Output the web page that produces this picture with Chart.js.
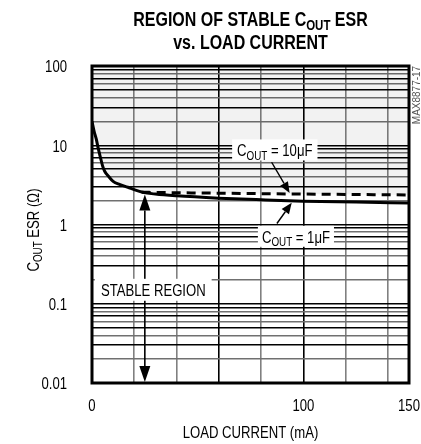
<!DOCTYPE html>
<html><head><meta charset="utf-8">
<script src="https://cdn.jsdelivr.net/npm/chart.js@4"></script>
<style>html,body{margin:0;padding:0;background:#fff}#wrap{width:421px;height:444px;position:relative}</style>
</head><body><div id="wrap"><canvas id="c" width="421" height="444"></canvas></div>
<script>
// ---- data ----
const loadCurrent1uF = [0, 1, 2, 3, 4, 5, 6, 8, 10, 13, 17, 20, 24, 30, 40, 60, 80, 100, 125, 150];
const esr1uF        = [20, 15, 12, 9, 7, 5.5, 4.7, 4.0, 3.5, 3.2, 2.95, 2.75, 2.55, 2.42, 2.3, 2.15, 2.05, 1.97, 1.92, 1.87];
const loadCurrent10uF = [23.5, 50, 100, 150];
const esr10uF         = [2.55, 2.5, 2.42, 2.36];
const xGridValues = [0, 20, 40, 60, 80, 100, 120, 140, 150];
const xTickLabels = [0, 100, 150];
const yTickLabels = [0.01, 0.1, 1, 10, 100];
const titleLine1 = ['REGION OF STABLE C', 'OUT', ' ESR'];
const titleLine2 = 'vs. LOAD CURRENT';
const xTitle = 'LOAD CURRENT (mA)';
const yTitle = ['C', 'OUT', ' ESR (Ω)'];
const label10uF = ['C', 'OUT', ' = 10μF'];
const label1uF = ['C', 'OUT', ' = 1μF'];
const stableLabel = 'STABLE REGION';
const partNo = 'MAX8877-17';

const FONT = '"Liberation Sans", Arial, sans-serif';
const NARROW = 0.82;

const pts = (xs, ys) => xs.map((x, i) => ({x, y: ys[i]}));
const curve1 = pts(loadCurrent1uF, esr1uF);
const curve10 = pts(loadCurrent10uF, esr10uF);
const envelope = curve1.filter(p => p.x < loadCurrent10uF[0]).concat(curve10);

const yTicks = [];
for (let e = -2; e <= 2; e++) {
  for (let m = 1; m <= 9; m++) {
    const v = +(m * Math.pow(10, e)).toPrecision(3);
    if (v <= 100) yTicks.push(v);
  }
}

function interp(xs, ys, x) {
  for (let i = 1; i < xs.length; i++) {
    if (x <= xs[i]) {
      const t = (x - xs[i - 1]) / (xs[i] - xs[i - 1]);
      return Math.exp(Math.log(ys[i - 1]) + t * (Math.log(ys[i]) - Math.log(ys[i - 1])));
    }
  }
  return ys[ys.length - 1];
}

const fnt = (s, bold) => (bold ? 'bold ' : '') + s + 'px ' + FONT;

function ntext(ctx, str, x, y, size, bold, align, baseline) {
  ctx.save();
  ctx.font = fnt(size, bold);
  ctx.textAlign = align || 'left';
  ctx.textBaseline = baseline || 'alphabetic';
  ctx.translate(x, y);
  ctx.scale(NARROW, 1);
  ctx.fillText(str, 0, 0);
  ctx.restore();
}
function nwidth(ctx, str, size, bold) {
  ctx.font = fnt(size, bold);
  return ctx.measureText(str).width * NARROW;
}
function richItems(ctx, parts, size, bold) {
  return parts.map((t, i) => {
    const s = i === 1 ? Math.round(size * 0.72) : size;
    return {t, sub: i === 1, s, w: nwidth(ctx, t, s, bold)};
  });
}
function richWidth(ctx, parts, size, bold) {
  return richItems(ctx, parts, size, bold).reduce((a, p) => a + p.w, 0);
}
function drawRich(ctx, parts, cx, baseline, size, bold) {
  const items = richItems(ctx, parts, size, bold);
  const w = items.reduce((a, p) => a + p.w, 0);
  let x = cx - w / 2;
  items.forEach(p => { ntext(ctx, p.t, x, baseline + (p.sub ? size * 0.2 : 0), p.s, bold, 'left'); x += p.w; });
  return w;
}
function arrow(ctx, x1, y1, x2, y2, len, half) {
  const a = Math.atan2(y2 - y1, x2 - x1);
  const bx = x2 - len * Math.cos(a), by = y2 - len * Math.sin(a);
  ctx.beginPath(); ctx.moveTo(x1, y1); ctx.lineTo(bx, by); ctx.stroke();
  ctx.beginPath();
  ctx.moveTo(x2, y2);
  ctx.lineTo(bx + half * Math.sin(a), by - half * Math.cos(a));
  ctx.lineTo(bx - half * Math.sin(a), by + half * Math.cos(a));
  ctx.closePath(); ctx.fill();
}

const decor = {
  id: 'decor',
  afterDraw(chart) {
    const ctx = chart.ctx, xs = chart.scales.x, ys = chart.scales.y, a = chart.chartArea;
    const X = v => xs.getPixelForValue(v), Y = v => ys.getPixelForValue(v);
    ctx.save();
    ctx.fillStyle = '#000'; ctx.strokeStyle = '#000';

    // vertical double arrow (stable region)
    const xa = 25;
    const yTop = Y(interp(loadCurrent1uF, esr1uF, xa)) + 2;
    ctx.lineWidth = 1.6;
    arrow(ctx, X(xa), (yTop + a.bottom) / 2, X(xa), yTop, 16, 5.5);
    arrow(ctx, X(xa), (yTop + a.bottom) / 2, X(xa), a.bottom - 1, 16, 5.5);

    // stable region label box
    const sw = nwidth(ctx, stableLabel, 16, false);
    const scx = X(29), scy = Y(0.15);
    ctx.fillStyle = '#fff';
    ctx.fillRect(scx - sw / 2 - 6, scy - 11, sw + 12, 22);
    ctx.fillStyle = '#000';
    ntext(ctx, stableLabel, scx, scy + 6, 16, false, 'center');

    // 10uF label + arrow
    let lw = richWidth(ctx, label10uF, 16, false);
    let lcx = X(86.5), lcy = Y(8.6);
    ctx.fillStyle = '#fff';
    ctx.fillRect(lcx - lw / 2 - 5, lcy - 11, lw + 10, 21);
    ctx.fillStyle = '#000';
    drawRich(ctx, label10uF, lcx, lcy + 6, 16, false);
    ctx.lineWidth = 1.4;
    arrow(ctx, X(85), Y(6.1), X(93.5), Y(interp(loadCurrent10uF, esr10uF, 93.5)) - 1, 11, 4.5);

    // 1uF label + arrow
    lw = richWidth(ctx, label1uF, 16, false);
    lcx = X(96.5); lcy = Y(0.7);
    ctx.fillStyle = '#fff';
    ctx.fillRect(lcx - lw / 2 - 4, lcy - 11, lw + 8, 21);
    ctx.fillStyle = '#000';
    drawRich(ctx, label1uF, lcx, lcy + 6, 16, false);
    arrow(ctx, X(87.5), Y(1.03), X(94.5), Y(interp(loadCurrent1uF, esr1uF, 94.5)) + 2, 11, 4.5);

    // plot frame
    ctx.lineWidth = 3;
    ctx.strokeRect(a.left, a.top, a.right - a.left, a.bottom - a.top);

    // tick labels
    ctx.fillStyle = '#000';
    yTickLabels.forEach(v => ntext(ctx, String(v), a.left - 25, Y(v) + 2, 16, false, 'right', 'middle'));
    xTickLabels.forEach(v => ntext(ctx, String(v), X(v), a.bottom + 28, 16, false, 'center'));

    // title
    const cx = (a.left + a.right) / 2;
    drawRich(ctx, titleLine1, cx, 26, 19.5, true);
    ntext(ctx, titleLine2, cx, 49, 19.5, true, 'center');

    // x title
    ntext(ctx, xTitle, cx, 438, 16, false, 'center');

    // y title (rotated)
    ctx.save();
    ctx.translate(39, 230);
    ctx.rotate(-Math.PI / 2);
    drawRich(ctx, yTitle, 0, 0, 16, false);
    ctx.restore();

    // part number
    ctx.save();
    ctx.translate(417, 95);
    ctx.rotate(-Math.PI / 2);
    ctx.fillStyle = '#555';
    ctx.font = '10px ' + FONT;
    ctx.textAlign = 'center'; ctx.textBaseline = 'middle';
    ctx.fillText(partNo, 0, 0);
    ctx.restore();

    ctx.restore();
  }
};

new Chart(document.getElementById('c'), {
  type: 'line',
  data: {
    datasets: [
      { label: '1uF', data: curve1, borderColor: '#000', borderWidth: 3, pointRadius: 0, fill: false, cubicInterpolationMode: 'monotone' },
      { label: '10uF', data: curve10, borderColor: '#000', borderWidth: 3, borderDash: [9, 6], pointRadius: 0, fill: false, cubicInterpolationMode: 'monotone' },
      { label: 'unstable', data: envelope, borderWidth: 0, borderColor: 'rgba(0,0,0,0)', backgroundColor: 'rgba(0,0,0,0.05)', pointRadius: 0, fill: 'end', cubicInterpolationMode: 'monotone' }
    ]
  },
  options: {
    responsive: false,
    animation: false,
    events: [],
    layout: { padding: { top: 66, right: 12, left: 0, bottom: 0 } },
    plugins: { legend: { display: false }, tooltip: { enabled: false }, title: { display: false } },
    scales: {
      x: {
        type: 'linear', min: 0, max: 150,
        afterFit: s => { s.height = 61; s.paddingLeft = 0; s.paddingRight = 0; },
        afterBuildTicks: s => { s.ticks = xGridValues.map(v => ({value: v})); },
        ticks: { display: false, autoSkip: false, maxRotation: 0 },
        grid: {
          drawTicks: false,
          lineWidth: 1.6,
          color: c => (c.tick && (c.tick.value === 60 || c.tick.value === 100)) ? '#000' : '#808080'
        },
        border: { display: false }
      },
      y: {
        type: 'logarithmic', min: 0.01, max: 100,
        afterFit: s => { s.width = 92; s.paddingTop = 0; s.paddingBottom = 0; },
        afterBuildTicks: s => { s.ticks = yTicks.map(v => ({value: v})); },
        ticks: { display: false, autoSkip: false },
        grid: {
          drawTicks: false,
          lineWidth: 1.4,
          color: c => {
            if (!c.tick) return '#000';
            const v = c.tick.value;
            const m = Math.round(v / Math.pow(10, Math.floor(Math.log10(v) + 1e-9)));
            return (m % 2 === 0) ? '#707070' : '#000';
          }
        },
        border: { display: false }
      }
    }
  },
  plugins: [decor]
});
</script>
</body></html>
